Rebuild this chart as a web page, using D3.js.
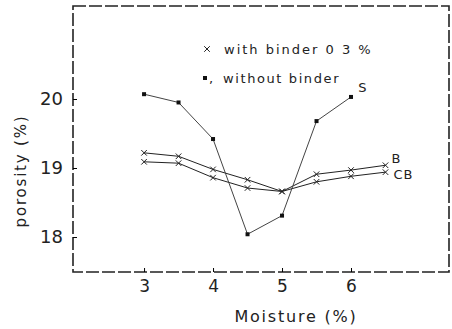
<!DOCTYPE html>
<html>
<head>
<meta charset="utf-8">
<script src="https://cdn.jsdelivr.net/npm/d3@7"></script>
<style>
	body { margin: 0; background: #fff; }
	text { font-family: "DejaVu Sans", sans-serif; fill: #222; }
</style>
</head>
<body>
<div id="chart"></div>
<script>
// moisture (%) on x
const moisture = [3, 3.5, 4, 4.5, 5, 5.5, 6, 6.5];
const moistureS = [3, 3.5, 4, 4.5, 5, 5.5, 6];

// porosity (%)
const porosityS = [20.07, 19.95, 19.42, 18.04, 18.31, 19.68, 20.03];
const porosityB = [19.22, 19.17, 18.98, 18.83, 18.66, 18.91, 18.97, 19.04];
const porosityCB = [19.09, 19.07, 18.86, 18.71, 18.66, 18.80, 18.88, 18.94];

const xTicks = [3, 4, 5, 6];
const yTicks = [18, 19, 20];

const width = 452;
const height = 329;
const margin = ({ top: 6, right: 2, bottom: 57, left: 73 });

const x = d3.scaleLinear()
	.domain([1.97, 7.435])
	.range([margin.left, width - margin.right]);

const y = d3.scaleLinear()
	.domain([17.493, 21.348])
	.range([height - margin.bottom, margin.top]);

const svg = d3.select("#chart")
	.append("svg")
	.attr("width", width)
	.attr("height", height)
	.attr("viewBox", [0, 0, width, height]);

// dashed frame
svg.append("rect")
	.attr("x", margin.left)
	.attr("y", margin.top)
	.attr("width", width - margin.right - margin.left - 1)
	.attr("height", height - margin.bottom - margin.top)
	.attr("fill", "none")
	.attr("stroke", "#222")
	.attr("stroke-width", 1.6)
	.attr("stroke-dasharray", "13,3");

const xAxis = g => g
	.attr("transform", `translate(0,${height - margin.bottom})`)
	.call(d3.axisBottom(x).tickValues(xTicks).tickFormat(d3.format("d"))
		.tickSizeInner(-4).tickSizeOuter(0).tickPadding(8))
	.call(g => g.select(".domain").remove())
	.call(g => g.selectAll(".tick text")
		.attr("font-size", 17)
		.attr("font-family", "DejaVu Sans")
		.attr("fill", "#222"));

const yAxis = g => g
	.attr("transform", `translate(${margin.left},0)`)
	.call(d3.axisLeft(y).tickValues(yTicks).tickFormat(d3.format("d"))
		.tickSizeInner(-4).tickSizeOuter(0).tickPadding(10))
	.call(g => g.select(".domain").remove())
	.call(g => g.selectAll(".tick text")
		.attr("font-size", 18)
		.attr("font-family", "DejaVu Sans")
		.attr("fill", "#222"));

svg.append("g").call(xAxis);
svg.append("g").call(yAxis);

// axis titles
svg.append("text")
	.attr("x", 296)
	.attr("y", 316)
	.attr("dy", "0.35em")
	.attr("text-anchor", "middle")
	.attr("font-size", 16)
	.attr("letter-spacing", 1.8)
	.text("Moisture (%)");

svg.append("text")
	.attr("transform", "translate(21,171) rotate(-90)")
	.attr("dy", "0.35em")
	.attr("text-anchor", "middle")
	.attr("font-size", 15)
	.attr("letter-spacing", 1.8)
	.text("porosity (%)");

const line = d3.line()
	.x(d => x(d[0]))
	.y(d => y(d[1]));

const series = [
	{ name: "B", xs: moisture, ys: porosityB, mark: "x", dx: 11, dy: -7 },
	{ name: "CB", xs: moisture, ys: porosityCB, mark: "x", dx: 8, dy: 2 },
	{ name: "S", xs: moistureS, ys: porosityS, mark: "dot", dx: 12, dy: -9 }
];

series.forEach(s => {
	const pts = s.xs.map((v, i) => [v, s.ys[i]]);

	svg.append("path")
		.datum(pts)
		.attr("fill", "none")
		.attr("stroke", s.mark === "dot" ? "#444" : "#222")
		.attr("stroke-width", 1)
		.attr("d", line);

	if (s.mark === "x") {
		svg.append("g")
			.selectAll("path")
			.data(pts)
			.join("path")
			.attr("transform", d => `translate(${x(d[0])},${y(d[1])})`)
			.attr("d", d3.symbol(d3.symbolTimes, 22))
			.attr("fill", "none")
			.attr("stroke", "#222")
			.attr("stroke-width", 1);
	} else {
		svg.append("g")
			.selectAll("rect")
			.data(pts)
			.join("rect")
			.attr("x", d => x(d[0]) - 2)
			.attr("y", d => y(d[1]) - 2)
			.attr("width", 4)
			.attr("height", 4)
			.attr("fill", "#111");
	}

	const last = pts[pts.length - 1];
	svg.append("text")
		.attr("x", x(last[0]) + s.dx)
		.attr("y", y(last[1]) + s.dy)
		.attr("dy", "0.35em")
		.attr("text-anchor", s.name === "CB" ? "start" : "middle")
		.attr("font-size", 13)
		.attr("letter-spacing", 1)
		.text(s.name);
});

// legend
const legend = svg.append("g").attr("font-size", 13).attr("letter-spacing", 2);

legend.append("path")
	.attr("transform", "translate(207,49)")
	.attr("d", d3.symbol(d3.symbolTimes, 22))
	.attr("fill", "none")
	.attr("stroke", "#222");

legend.append("text")
	.attr("x", 224)
	.attr("y", 49)
	.attr("dy", "0.35em")
	.text("with binder 0 3 %");

legend.append("rect")
	.attr("x", 203)
	.attr("y", 76)
	.attr("width", 4)
	.attr("height", 4)
	.attr("fill", "#111");

legend.append("text")
	.attr("x", 209)
	.attr("y", 78)
	.attr("dy", "0.35em")
	.text(",");

legend.append("text")
	.attr("x", 223)
	.attr("y", 78)
	.attr("dy", "0.35em")
	.attr("letter-spacing", 1.6)
	.text("without binder");
</script>
</body>
</html>
